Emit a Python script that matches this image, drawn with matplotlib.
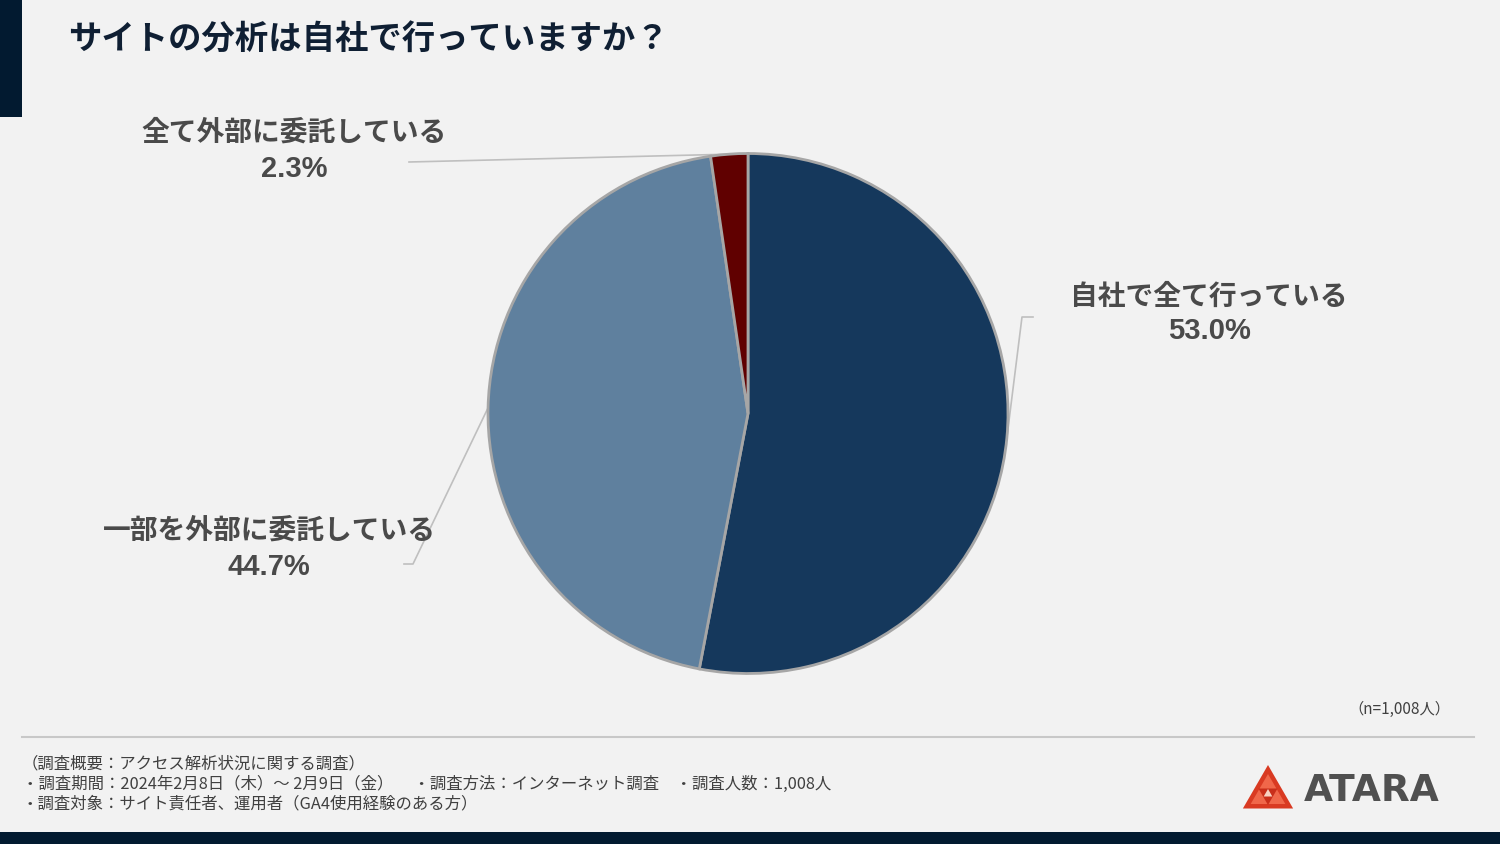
import matplotlib
matplotlib.use("Agg")
import matplotlib.pyplot as plt
from matplotlib.patches import Rectangle, Polygon
import numpy as np

plt.rcParams['font.family'] = ['Noto Sans CJK JP', 'DejaVu Sans']

# ---- data ----
title = "サイトの分析は自社で行っていますか？"
categories = ["自社で全て行っている", "一部を外部に委託している", "全て外部に委託している"]
values = [53.0, 44.7, 2.3]
colors = ["#15385C", "#5F809E", "#600000"]
sample_note = "（n=1,008人）"
footer_lines = [
    "（調査概要：アクセス解析状況に関する調査）",
    "・調査期間：2024年2月8日（木）～ 2月9日（金）　 ・調査方法：インターネット調査　・調査人数：1,008人",
    "・調査対象：サイト責任者、運用者（GA4使用経験のある方）",
]
brand = "ATARA"

W, H = 1500, 844
BG = "#F2F2F2"
fig = plt.figure(figsize=(15, 8.44), dpi=100, facecolor=BG)

# overlay axes in pixel coordinates
ov = fig.add_axes([0, 0, 1, 1], zorder=0)
ov.set_xlim(0, W)
ov.set_ylim(H, 0)
ov.axis("off")
ov.set_facecolor(BG)

# decorations
ov.add_patch(Rectangle((0, 0), 22, 117, color="#021A30", lw=0))
ov.add_patch(Rectangle((0, 832), W, 12, color="#021A30", lw=0))
ov.plot([22, 1474], [737, 737], color="#C8C8C8", lw=1.5)

ov.text(68, 40, title, fontsize=24, fontweight="bold", color="#0F1F33",
        va="center", ha="left")

# pie
cx, cy, r = 748, 413.5, 260
ax = fig.add_axes([(cx - r) / W, (H - cy - r) / H, 2 * r / W, 2 * r / H], zorder=1)
wedges, _ = ax.pie(values, colors=colors, startangle=90, counterclock=False,
                   radius=1, wedgeprops=dict(edgecolor="#A6A6A6", linewidth=2))
ax.set_xlim(-1, 1)
ax.set_ylim(-1, 1)
ax.set_aspect("equal")
ax.axis("off")

def edge_point(w):
    ang = np.deg2rad((w.theta1 + w.theta2) / 2)
    return cx + r * np.cos(ang), cy - r * np.sin(ang)

LC = "#BFBFBF"
TC = "#4A4A4A"
# label layout: (label center x, name y, pct y, leader path after anchor)
layout = [
    (1209, 297, 331, [(1022, 317), (1033, 317)]),
    (269, 531, 567, [(413, 564), (404, 564)]),
    (294, 133, 169, [(409, 162)]),
]
for w, name, v, (lx, ny, py, path) in zip(wedges, categories, values, layout):
    ax_, ay_ = edge_point(w)
    xs = [ax_] + [p[0] for p in path]
    ys = [ay_] + [p[1] for p in path]
    ov.plot(xs, ys, color=LC, lw=1.2, zorder=0.5)
    ov.text(lx, ny, name, fontsize=20, fontweight="bold", color=TC,
            ha="center", va="center")
    ov.text(lx, py, f"{v:.1f}%", fontsize=21, fontweight="bold", color=TC,
            ha="center", va="center", family="Liberation Sans")

# sample note
ov.text(1450, 709, sample_note, fontsize=11, color="#404040", ha="right", va="center")

# footer
for i, line in enumerate(footer_lines):
    ov.text(22, 764 + 20 * i, line, fontsize=11.8, color="#404040",
            ha="left", va="center")

# brand logo (stylized triangle)
tri_c = (1268, 794)
def tri(cxy, s, rot=0):
    pts = []
    for k in range(3):
        a = np.deg2rad(90 + 120 * k + rot)
        pts.append((cxy[0] + s * np.cos(a), cxy[1] - s * np.sin(a)))
    return pts
ov.add_patch(Polygon(tri(tri_c, 29), closed=True, color="#D93A22", lw=0))
ov.add_patch(Polygon(tri(tri_c, 20), closed=True, color="#F0674A", lw=0))
ov.add_patch(Polygon(tri(tri_c, 11, 60), closed=True, color="#C92E1A", lw=0))
ov.add_patch(Polygon(tri(tri_c, 5), closed=True, color="#F8D0C0", lw=0))
ov.text(1304, 791, brand, fontsize=27, fontweight="bold", color="#505050",
        ha="left", va="center", family="DejaVu Sans")

fig.savefig("out.png", dpi=100, facecolor=BG)
